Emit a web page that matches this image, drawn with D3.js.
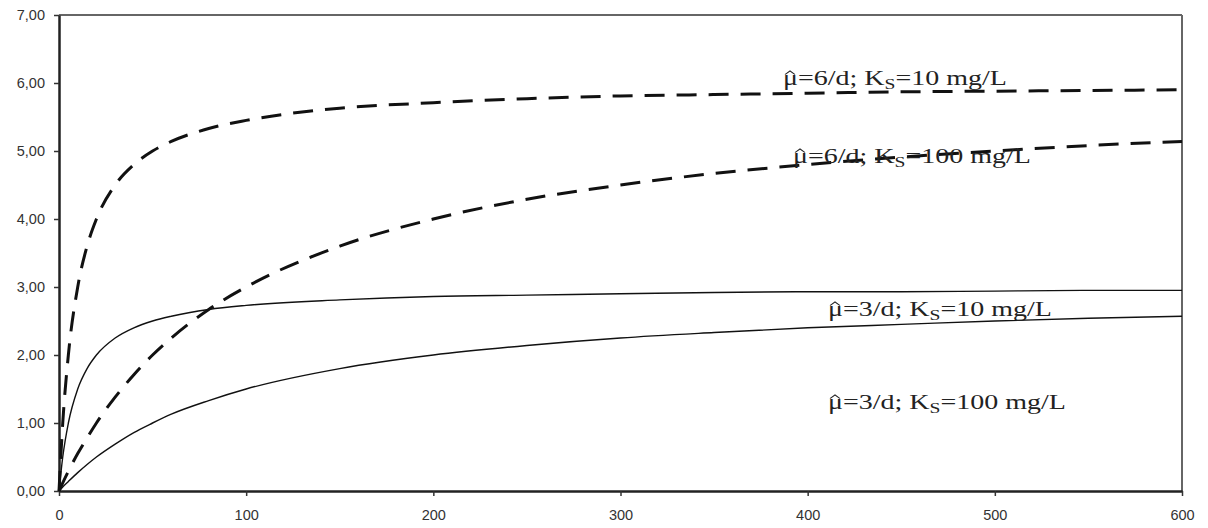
<!DOCTYPE html>
<html>
<head>
<meta charset="utf-8">
<script src="https://cdn.jsdelivr.net/npm/d3@7"></script>
<style>
  body { margin: 0; background: #fff; }
  svg { display: block; }
</style>
</head>
<body>
<svg id="chart"></svg>
<script>
// substrate concentration S (mg/L)
const substrate = [0, 2, 5, 10, 15, 20, 30, 40, 50, 60, 80, 100, 150, 200, 250, 300, 350, 400, 450, 500, 550, 600];
// growth rate (1/d)
const mu6k10  = [0, 1.00, 2.00, 3.00, 3.60, 4.00, 4.50, 4.80, 5.00, 5.14, 5.33, 5.45, 5.63, 5.71, 5.77, 5.81, 5.83, 5.85, 5.87, 5.88, 5.89, 5.90];
const mu6k100 = [0, 0.12, 0.29, 0.55, 0.78, 1.00, 1.38, 1.71, 2.00, 2.25, 2.67, 3.00, 3.60, 4.00, 4.29, 4.50, 4.67, 4.80, 4.91, 5.00, 5.08, 5.14];
const mu3k10  = [0, 0.50, 1.00, 1.50, 1.80, 2.00, 2.25, 2.40, 2.50, 2.57, 2.67, 2.73, 2.81, 2.86, 2.88, 2.90, 2.92, 2.93, 2.93, 2.94, 2.95, 2.95];
const mu3k100 = [0, 0.06, 0.14, 0.27, 0.39, 0.50, 0.69, 0.86, 1.00, 1.13, 1.33, 1.50, 1.80, 2.00, 2.14, 2.25, 2.33, 2.40, 2.45, 2.50, 2.54, 2.57];

const xTicks = [0, 100, 200, 300, 400, 500, 600];
const yTicks = [0, 1, 2, 3, 4, 5, 6, 7];

const series = [
  { values: mu6k10,  dashed: true,  mu: "6", ks: "10",  lx: 783, ly: 85 },
  { values: mu6k100, dashed: true,  mu: "6", ks: "100", lx: 793, ly: 163 },
  { values: mu3k10,  dashed: false, mu: "3", ks: "10",  lx: 828, ly: 316 },
  { values: mu3k100, dashed: false, mu: "3", ks: "100", lx: 828, ly: 409 }
];

const width = 1208, height = 528;
const margin = {top: 15, right: 26, bottom: 37, left: 59};

const svg = d3.select("#chart")
  .attr("width", width)
  .attr("height", height);

const x = d3.scaleLinear()
  .domain([0, 600])
  .range([margin.left, width - margin.right]);

const y = d3.scaleLinear()
  .domain([0, 7])
  .range([height - margin.bottom, margin.top]);

// top and right frame (grey)
svg.append("line")
  .attr("x1", x(0)).attr("x2", x(600))
  .attr("y1", y(7)).attr("y2", y(7))
  .attr("stroke", "#666").attr("stroke-width", 2);
svg.append("line")
  .attr("x1", x(600)).attr("x2", x(600))
  .attr("y1", y(7)).attr("y2", y(0))
  .attr("stroke", "#666").attr("stroke-width", 2);

// axes
const xAxisG = svg.append("g")
  .attr("transform", `translate(0,${y(0)})`)
  .call(d3.axisBottom(x).tickValues(xTicks).tickSize(5).tickSizeOuter(0).tickPadding(14));

const yAxisG = svg.append("g")
  .attr("transform", `translate(${x(0)},0)`)
  .call(d3.axisLeft(y).tickValues(yTicks).tickSize(5).tickSizeOuter(0).tickPadding(9)
    .tickFormat(d => d3.format(".2f")(d).replace(".", ",")));

[xAxisG, yAxisG].forEach(g => {
  g.select(".domain").attr("stroke", "#222").attr("stroke-width", 2.5);
  g.selectAll(".tick line").attr("stroke", "#333").attr("stroke-width", 1.5);
  g.selectAll("text")
    .attr("fill", "#333")
    .style("font-family", "'Liberation Sans', Arial, sans-serif")
    .style("font-size", "14.5px");
});

// curves
const line = d3.line()
  .x((d, i) => x(substrate[i]))
  .y(d => y(d))
  .curve(d3.curveMonotoneX);

series.forEach(s => {
  svg.append("path")
    .datum(s.values)
    .attr("d", line)
    .attr("fill", "none")
    .attr("stroke", "#111")
    .attr("stroke-width", s.dashed ? 3 : 1.4)
    .attr("stroke-dasharray", s.dashed ? "20,12" : null);
});

// labels (the original lettering is stretched horizontally)
series.forEach(s => {
  const lg = svg.append("g")
    .attr("transform", `translate(${s.lx},${s.ly}) scale(1.4,1)`)
    .attr("fill", "#222")
    .style("font-family", "'Liberation Serif', 'Times New Roman', serif")
    .style("font-size", "20px");
  // hat over mu
  lg.append("path")
    .attr("d", "M1.5,-10.5 L5,-14 L8.5,-10.5")
    .attr("fill", "none")
    .attr("stroke", "#222")
    .attr("stroke-width", 1);
  const t = lg.append("text").attr("x", 0).attr("y", 0);
  t.append("tspan").text("\u03BC");
  t.append("tspan").text(`=${s.mu}/d; K`);
  t.append("tspan").attr("dy", 4).style("font-size", "14px").text("S");
  t.append("tspan").attr("dy", -4).text(`=${s.ks} mg/L`);
});
</script>
</body>
</html>
